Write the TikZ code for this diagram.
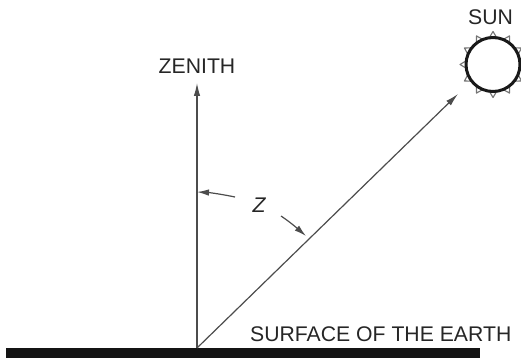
\documentclass[tikz,border=0pt]{standalone}
\usepackage{fontspec}
\setmainfont{Liberation Sans}
\usetikzlibrary{arrows.meta}
\tikzset{
 lbl/.style={inner sep=0pt,text=black!85,font=\fontsize{21.2}{24}\selectfont},
 ray/.style={-{Latex[length=13pt,width=6.5pt]},line width=1.2pt,draw=black!70},
 zarc/.style={-{Latex[length=12pt,width=6.5pt]},line width=1.2pt,draw=black!70},
 tri/.style={draw=black!55,fill=white,line width=1.1pt,line join=round},
}
\begin{document}
\begin{tikzpicture}[x=1pt,y=-1pt]
\useasboundingbox (0,0) rectangle (521,358);
\fill[black!92] (6,348) rectangle (480,358);
\coordinate (O) at (197,348);
\coordinate (Zt) at (197,83);
\coordinate (St) at (458,94);
\draw[ray] (O) -- (Zt);
\draw[ray] (O) -- (St);
\coordinate (A) at (197,192);
\coordinate (Aend) at (235,197);
\coordinate (B) at (306,236);
\coordinate (Bstart) at (281,216);
\draw[zarc] (Aend) .. controls (223,194.5) and (210,192.6) .. (A);
\draw[zarc] (Bstart) .. controls (290,222) and (298,229) .. (B);
\foreach \a in {0,30,...,330}{
  \draw[tri] ({493+27*sin(\a-8)},{64.5-27*cos(\a-8)}) -- ({493+33*sin(\a)},{64.5-33*cos(\a)}) -- ({493+27*sin(\a+8)},{64.5-27*cos(\a+8)}) -- cycle;
}
\node[circle,draw=black!90,fill=white,line width=3pt,minimum size=54pt,inner sep=0pt] (sun) at (493,64.5) {};
\node[lbl,anchor=base] (sl) at (490.5,25) {SUN};
\node[lbl,anchor=base] (zl) at (197,74) {ZENITH};
\node[lbl,anchor=base west] (el) at (250,341) {SURFACE OF THE EARTH};
\node[lbl,anchor=base] (zz) at (259,212) {\itshape Z};
\end{tikzpicture}
\end{document}
